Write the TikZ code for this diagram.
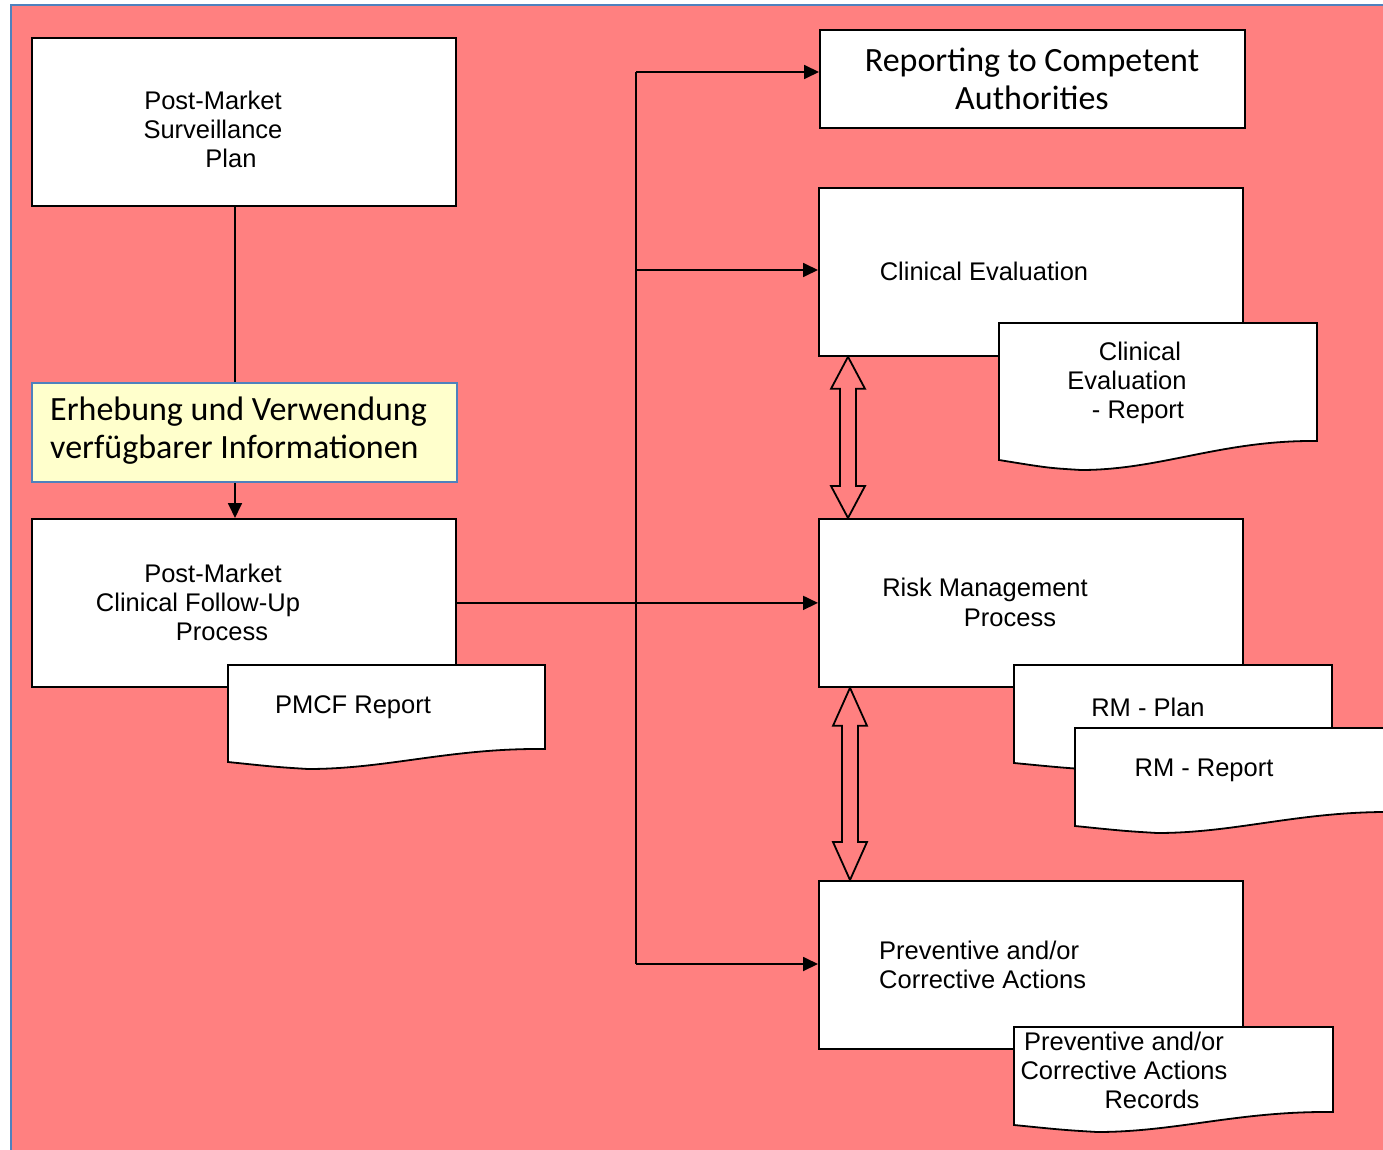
\documentclass[tikz,border=0pt]{standalone}
\usepackage{fontspec}
\setmainfont{Liberation Sans}
\newfontfamily\califont{Carlito}
\usetikzlibrary{arrows.meta,calc}
\definecolor{pinkbg}{RGB}{255,128,128}
\definecolor{frameblue}{RGB}{79,129,189}
\definecolor{infoyellow}{RGB}{255,255,204}
\newcommand\docshape[7]{%
  \draw[docst] (#1,#2) -- (#3,#2) -- (#3,#7)
    .. controls ({#3-0.3*(#3-#1)},{#7-1}) and ({#5+0.25*(#3-#1)},#6) .. (#5,#6)
    .. controls ({#5-0.4*(#5-#1)},{#6-2}) .. (#1,#4) -- cycle;}
\begin{document}
\begin{tikzpicture}[x=1pt,y=-1pt,
  box/.style={draw=black, line width=1.8pt, fill=white, anchor=north west, inner sep=0pt},
  docst/.style={draw=black, line width=1.8pt, fill=white, line join=miter},
  conn/.style={draw=black, line width=1.8pt},
  arr/.style={conn, -{Triangle[length=15pt,width=14pt]}},
  dbl/.style={draw=black, line width=1.8pt, line join=miter},
  atxt/.style={font=\fontsize{25.5}{29}\selectfont, inner sep=0pt, align=center},
  ctxt/.style={font=\califont\fontsize{34}{38}\selectfont, inner sep=0pt}]
\useasboundingbox (0,0) rectangle (1383,1150);
\fill[white] (0,0) rectangle (1383,1150);
\fill[pinkbg] (11,5) rectangle (1383,1150);
\draw[frameblue, line width=2pt] (11,1150) -- (11,5) -- (1383,5);

% boxes
\node[box, minimum width=424pt, minimum height=168pt] (pms) at (31,37) {};
\node[box, fill=infoyellow, draw=frameblue, minimum width=425pt, minimum height=99pt] (info) at (31,382) {};
\node[box, minimum width=424pt, minimum height=168pt] (pmcf) at (31,518) {};
\node[box, minimum width=425pt, minimum height=98pt] (rep) at (819,29) {};
\node[box, minimum width=424pt, minimum height=168pt] (ce) at (818,187) {};
\node[box, minimum width=424pt, minimum height=168pt] (rm) at (818,518) {};
\node[box, minimum width=424pt, minimum height=168pt] (pca) at (818,880) {};

% documents
\docshape{228}{665}{545}{762}{308}{769}{749}
\docshape{999}{323}{1317}{460}{1081}{470}{441}
\docshape{1014}{665}{1332}{763}{1100}{770}{750}
\docshape{1075}{728}{1395}{826}{1157}{833}{812}
\docshape{1014}{1027}{1333}{1125}{1097}{1132}{1112}

% texts
\node[atxt] (t1) at (213,129) {Post-Market\\Surveillance\\\hspace*{36pt}Plan};
\node[ctxt, align=left, anchor=west] (t2) at (50,431) {Erhebung und Verwendung\\verfügbarer Informationen};
\node[atxt] (t3) at (198,602) {\hspace*{30pt}Post-Market\\Clinical Follow-Up\\\hspace*{48pt}Process};
\node[atxt] (t4) at (353,707) {PMCF Report};
\node[ctxt, align=center] (t5) at (1032,79) {Reporting to Competent\\Authorities};
\node[atxt] (t6) at (984,271) {Clinical Evaluation};
\node[atxt] (t7) at (1127,383) {\hspace*{26pt}Clinical\\Evaluation\\\hspace*{22pt}- Report};
\node[atxt, font=\fontsize{25.5}{30}\selectfont] (t8) at (985,602) {Risk Management\\\hspace*{50pt}Process};
\node[atxt] (t9) at (1148,707) {RM - Plan};
\node[atxt] (t10) at (1204,770) {RM - Report};
\node[atxt, align=left, anchor=west] (t11) at (879,965) {Preventive and/or\\Corrective Actions};
\node[atxt] (t12) at (1124,1070) {Preventive and/or\\Corrective Actions\\\hspace*{56pt}Records};

% connectors
\draw[conn] (pms.south -| 235,0) -- (info.north -| 235,0);
\draw[arr] (info.south -| 235,0) -- (pmcf.north -| 235,0);
\draw[arr] (pmcf.east) -- (rm.west);
\coordinate (bt) at (636,72);
\coordinate (bb) at (636,964);
\draw[conn] (bt) -- (bb);
\draw[arr] (bt) -- (bt -| rep.west);
\draw[arr] (636,270) -- (ce.west |- 0,270);
\draw[arr] (bb) -- (bb -| pca.west);

% double arrows
\coordinate (a1) at ($(ce.south west)+(30,0)$);
\coordinate (a2) at ($(rm.north west)+(30,0)$);
\draw[dbl] (a1) -- ($(a1)+(17,32)$) -- ($(a1)+(8,32)$) -- ($(a2)+(8,-32)$) -- ($(a2)+(17,-32)$) -- (a2)
  -- ($(a2)+(-17,-32)$) -- ($(a2)+(-8,-32)$) -- ($(a1)+(-8,32)$) -- ($(a1)+(-17,32)$) -- cycle;
\coordinate (a3) at ($(rm.south west)+(32,0)$);
\coordinate (a4) at ($(pca.north west)+(32,0)$);
\draw[dbl] (a3) -- ($(a3)+(17,38)$) -- ($(a3)+(8,38)$) -- ($(a4)+(8,-38)$) -- ($(a4)+(17,-38)$) -- (a4)
  -- ($(a4)+(-17,-38)$) -- ($(a4)+(-8,-38)$) -- ($(a3)+(-8,38)$) -- ($(a3)+(-17,38)$) -- cycle;
\end{tikzpicture}
\end{document}
